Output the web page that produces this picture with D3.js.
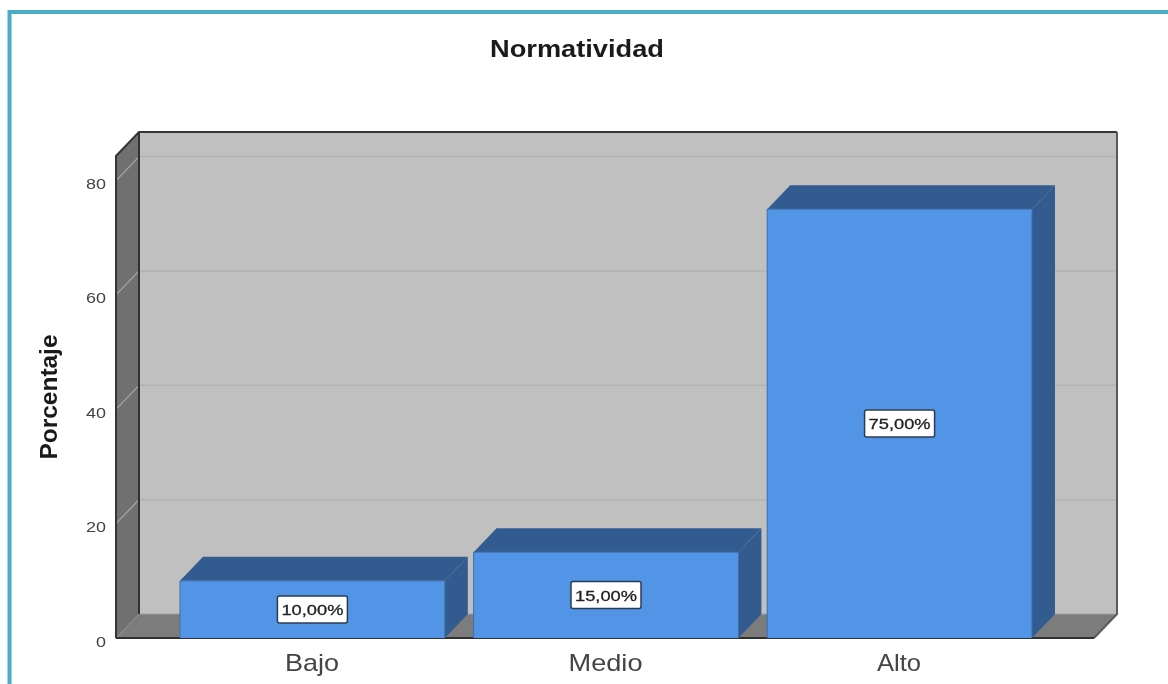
<!DOCTYPE html>
<html><head><meta charset="utf-8">
<style>html,body{margin:0;padding:0;background:#fff;overflow:hidden}svg{display:block;filter:blur(0.6px)}text{font-family:"Liberation Sans",Arial,sans-serif}</style>
<script src="https://cdn.jsdelivr.net/npm/d3@7"></script></head><body>
<script>
const categories = ["Bajo","Medio","Alto"];
const percentages = [10,15,75];
const valueLabels = ["10,00%","15,00%","75,00%"];
const yTicks = [0,20,40,60,80];
const titleText = "Normatividad";
const yAxisTitle = "Porcentaje";

const W=1168,H=684,dx=23,dy=-24;
const svg=d3.select("body").append("svg").attr("width",W).attr("height",H);
const y=d3.scaleLinear().domain([0,84.3]).range([638,156]);
const x=d3.scaleBand().domain(categories).range([180,1032]).paddingInner(0.098).paddingOuter(0);
const L=116,R=1094,y0=y(0),yT=y.range()[1];
const pts=a=>a.map(p=>p.join(",")).join(" ");

// frame
svg.append("path").attr("d",`M9.5,${H}V12H${W}`).attr("fill","none").attr("stroke","#4BACC6").attr("stroke-width",4);

// walls
svg.append("polygon").attr("points",pts([[L+dx,yT+dy],[R+dx,yT+dy],[R+dx,y0+dy],[L+dx,y0+dy]])).attr("fill","#c0c0c0");
svg.append("polygon").attr("points",pts([[L,yT],[L+dx,yT+dy],[L+dx,y0+dy],[L,y0]])).attr("fill","#707070");
svg.append("polygon").attr("points",pts([[L,y0],[L+dx,y0+dy],[R+dx,y0+dy],[R,y0]])).attr("fill","#7c7c7c");

// gridlines
const gt=yTicks.filter(d=>d>0);
svg.append("g").selectAll("line").data(gt).join("line")
 .attr("x1",L+dx).attr("x2",R+dx).attr("y1",d=>y(d)+dy).attr("y2",d=>y(d)+dy).attr("stroke","#b2b2b2").attr("stroke-width",1.5);
svg.append("g").selectAll("line").data(gt).join("line")
 .attr("x1",L).attr("x2",L+dx).attr("y1",d=>y(d)).attr("y2",d=>y(d)+dy).attr("stroke","#a8a8a8").attr("stroke-width",1.2);

// wall outlines
const outline=(a,c,w)=>svg.append("polyline").attr("points",pts(a)).attr("fill","none").attr("stroke",c).attr("stroke-width",w);
outline([[L,y0],[L,yT],[L+dx,yT+dy],[R+dx,yT+dy]],"#353535",2);
outline([[L+dx,yT+dy],[L+dx,y0+dy]],"#303030",2);
outline([[R+dx,yT+dy],[R+dx,y0+dy],[R,y0]],"#5a5a5a",2);
outline([[R,y0],[L,y0]],"#303030",2);
svg.append("line").attr("x1",L+dx+2).attr("x2",R+dx-1).attr("y1",y0+dy).attr("y2",y0+dy).attr("stroke","#a0a0a0").attr("stroke-width",1);

// bars
const bars=svg.append("g").selectAll("g").data(categories).join("g");
const val=i=>percentages[i];
bars.append("polygon").attr("points",(c,i)=>{const a=x(c),b=a+x.bandwidth(),t=y(val(i));return pts([[a,t],[a+dx,t+dy],[b+dx,t+dy],[b,t]])}).attr("fill","#325b8f");
bars.append("polygon").attr("points",(c,i)=>{const b=x(c)+x.bandwidth(),t=y(val(i));return pts([[b,t],[b+dx,t+dy],[b+dx,y0+dy],[b,y0]])}).attr("fill","#325b8f");
bars.append("rect").attr("x",c=>x(c)).attr("width",x.bandwidth()).attr("y",(c,i)=>y(val(i))).attr("height",(c,i)=>y0-y(val(i))).attr("fill","#5294e6");
bars.append("polyline").attr("points",(c,i)=>{const a=x(c),b=a+x.bandwidth(),t=y(val(i));return pts([[a,y0],[a,t],[b,t],[b,y0]])}).attr("fill","none").attr("stroke","#3d6ea8").attr("stroke-width",1);
// value labels
const lw=70,lh=27;
bars.append("rect").attr("x",c=>x(c)+x.bandwidth()/2-lw/2).attr("y",(c,i)=>(y(val(i))+y0)/2-lh/2).attr("width",lw).attr("height",lh).attr("rx",2)
 .attr("fill","#fff").attr("stroke","#2c3c50").attr("stroke-width",1.5);
bars.append("text").attr("x",c=>x(c)+x.bandwidth()/2).attr("y",(c,i)=>(y(val(i))+y0)/2+5.5).attr("text-anchor","middle").attr("font-size",15).attr("fill","#222").attr("stroke","#222").attr("stroke-width",0.3).attr("textLength",62).attr("lengthAdjust","spacingAndGlyphs").text((c,i)=>valueLabels[i]);

// axes text
svg.append("g").selectAll("text").data(yTicks).join("text").attr("x",106).attr("y",d=>y(d)+8.5).attr("text-anchor","end").attr("font-size",15).attr("fill","#444").attr("textLength",d=>d?20:10).attr("lengthAdjust","spacingAndGlyphs").text(d=>d);
svg.append("g").selectAll("text").data(categories).join("text").attr("x",c=>x(c)+x.bandwidth()/2-0.5).attr("y",671).attr("text-anchor","middle").attr("font-size",24).attr("fill","#444").attr("textLength",c=>({Bajo:54,Medio:74,Alto:44})[c]).attr("lengthAdjust","spacingAndGlyphs").text(c=>c);
svg.append("text").attr("x",577).attr("y",57).attr("text-anchor","middle").attr("font-size",23).attr("font-weight","bold").attr("fill","#1a1a1a").attr("textLength",174).attr("lengthAdjust","spacingAndGlyphs").text(titleText);
svg.append("text").attr("transform","translate(57,397) rotate(-90)").attr("text-anchor","middle").attr("font-size",24).attr("font-weight","bold").attr("fill","#1a1a1a").attr("textLength",125).attr("lengthAdjust","spacingAndGlyphs").text(yAxisTitle);
</script></body></html>
